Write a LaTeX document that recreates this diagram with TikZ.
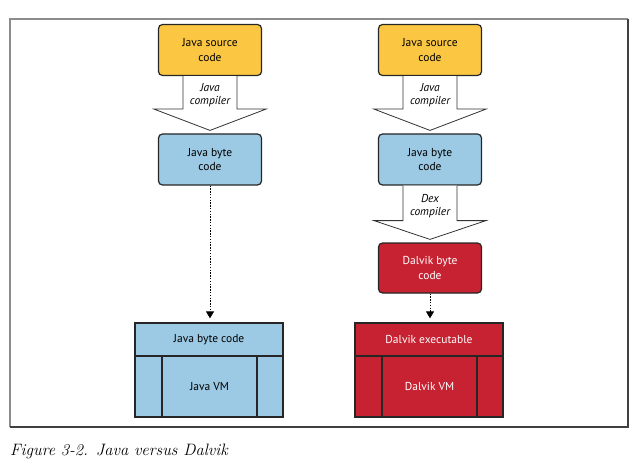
\documentclass[tikz,border=0pt]{standalone}
\usepackage{fontspec}
\newfontfamily\boxfont{PT Sans}
\usetikzlibrary{calc,arrows.meta}
\definecolor{srcyellow}{HTML}{FBC742}
\definecolor{bytblue}{HTML}{9CC9E3}
\definecolor{dalred}{HTML}{C62232}

\begin{document}
\begin{tikzpicture}
        [x=1pt,y=-1pt,every node/.style={font=\boxfont\fontsize{11.5}{14.5}\selectfont,align=center,inner sep=0},
        box/.style={draw=black!85,line width=1.2pt,rounded corners=4pt,minimum width=103pt,minimum height=51pt},
        vmpart/.style={draw=black!85,line width=1.3pt,minimum height=61pt},
        bigarrow/.style={draw=black!80,line width=0.8pt,fill=white},
        steplabel/.style={font=\boxfont\itshape\fontsize{11.5}{13}\selectfont},
        dots/.style={line width=1pt,dash pattern=on 1.4pt off 1.4pt,shorten >=4pt,-{Triangle[width=8pt,length=7pt]}}]

        \useasboundingbox (0,0) rectangle (644,465);

        % frame
        \draw[black!45,line width=1.3pt] (10,427) -- (10,19) -- (628,19);
        \draw[black!75,line width=1.3pt] (628,19) -- (628,427) -- (10,427);

        % java side
        \node[box,fill=srcyellow] (src1) at (210,50) {Java source\\code};
        \node[box,fill=bytblue] (byte1) at (210,159.5) {Java byte\\code};
        \node[vmpart,fill=bytblue,minimum width=148pt,minimum height=33pt] (exe1) at (209,339.5) {Java byte code};
        \node[vmpart,fill=bytblue,minimum width=27pt] (left1) at (148.5,386.5) {};
        \node[vmpart,fill=bytblue,minimum width=95pt] (vm1) at (209.5,386.5) {Java VM};
        \node[vmpart,fill=bytblue,minimum width=26pt] (right1) at (270,386.5) {};

        % dalvik side
        \node[box,fill=srcyellow] (src2) at (430,50) {Java source\\code};
        \node[box,fill=bytblue] (byte2) at (430,159.5) {Java byte\\code};
        \node[box,fill=dalred,text=white,minimum height=50pt] (dal2) at (430,268) {Dalvik byte\\code};
        \node[vmpart,fill=dalred,text=white,minimum width=148pt,minimum height=33pt] (exe2) at (429,339.5) {Dalvik executable};
        \node[vmpart,fill=dalred,minimum width=27pt] (left2) at (368.5,386.5) {};
        \node[vmpart,fill=dalred,text=white,minimum width=95pt] (vm2) at (429.5,386.5) {Dalvik VM};
        \node[vmpart,fill=dalred,minimum width=26pt] (right2) at (490,386.5) {};

        % compiler arrows
        \draw[bigarrow] ($(src1.south)+(-27,0)$) -- ++(0,33) -- ++(-29,0) -- ($(byte1.north)+(0,-3)$)
          -- ($(src1.south)+(56,33)$) -- ++(-29,0) -- ++(0,-33);
        \node[steplabel] (jc1) at ($(src1.south)+(0,19)$) {Java\\compiler};

        \draw[bigarrow] ($(src2.south)+(-27,0)$) -- ++(0,33) -- ++(-29,0) -- ($(byte2.north)+(0,-3)$)
          -- ($(src2.south)+(56,33)$) -- ++(-29,0) -- ++(0,-33);
        \node[steplabel] (jc2) at ($(src2.south)+(0,19)$) {Java\\compiler};

        \draw[bigarrow] ($(byte2.south)+(-27,0)$) -- ++(0,35) -- ++(-29,0) -- ($(dal2.north)+(0,-3)$)
          -- ($(byte2.south)+(56,35)$) -- ++(-29,0) -- ++(0,-35);
        \node[steplabel] (dex) at ($(byte2.south)+(0,20)$) {Dex\\compiler};

        % dotted arrows
        \draw[dots] (byte1.south) -- (byte1.south |- exe1.north);
        \draw[dots] (dal2.south) -- (dal2.south |- exe2.north);

        % caption
        \node[anchor=base west,font=\itshape\fontsize{16.5}{19}\selectfont] (cap) at (10,455) {Figure 3-2. Java versus Dalvik};

      \end{tikzpicture}
\end{document}
